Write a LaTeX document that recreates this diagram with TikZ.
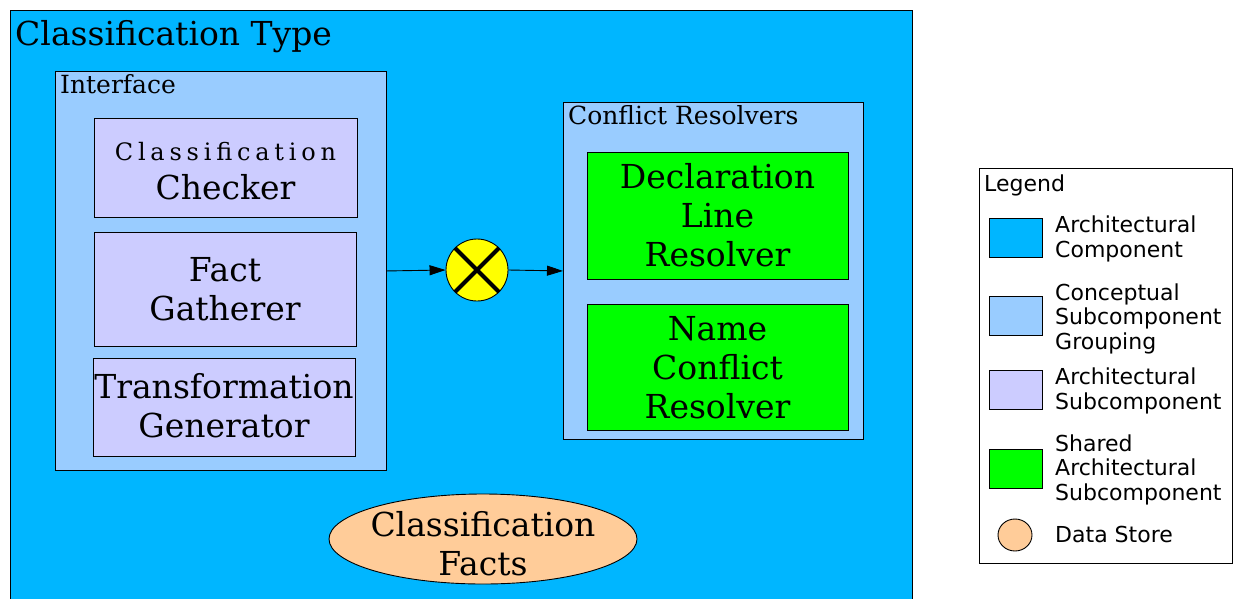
\documentclass[tikz,border=0pt]{standalone}
\usepackage{fontspec}
\setmainfont{DejaVu Serif}
\newfontfamily\legendfont{DejaVu Sans}
\newfontfamily\trackedfont[LetterSpace=20]{DejaVu Serif}
\usetikzlibrary{arrows.meta,shapes.geometric}
\definecolor{compblue}{HTML}{00B6FF}
\definecolor{groupblue}{HTML}{99CCFF}
\definecolor{subviolet}{HTML}{CCCCFF}
\definecolor{sharedgreen}{HTML}{00FF00}
\definecolor{storeorange}{HTML}{FFCC99}
\definecolor{mergeyellow}{HTML}{FFFF00}
% stacked lines whose reference point is the baseline of the first line
\newcommand{\linesc}[1]{\begin{tabular}[t]{@{}c@{}}#1\end{tabular}}
\newcommand{\linesl}[1]{\begin{tabular}[t]{@{}l@{}}#1\end{tabular}}
\tikzset{
  frame/.style={draw=black, line width=0.9pt, rectangle, inner sep=0pt, anchor=north west},
  bigtext/.style={font=\fontsize{33}{39}\selectfont, anchor=base, inner sep=0pt},
  boxlabel/.style={font=\fontsize{25}{29}\selectfont, anchor=base west, inner sep=0pt},
  legendtext/.style={font=\legendfont\fontsize{22}{24.5}\selectfont, anchor=base west, inner sep=0pt},
  swatch/.style={draw=black, line width=0.9pt, minimum width=53pt, minimum height=39pt, inner sep=0pt, anchor=north west},
  flow/.style={-{Triangle[length=16pt,width=10pt]}, line width=0.9pt},
}
\begin{document}
\begin{tikzpicture}[x=1pt,y=-1pt]
\useasboundingbox (0,0) rectangle (1235,598);
\fill[white] (0,0) rectangle (1235,598);

% the component
\node[frame, fill=compblue, minimum width=902pt, minimum height=600pt] (comp) at (10,10) {};
\node[anchor=base west, inner sep=0pt, font=\fontsize{33}{39}\selectfont] (comptitle) at (15,45) {Classification Type};

% interface group
\node[frame, fill=groupblue, minimum width=331pt, minimum height=399pt] (iface) at (55,71) {};
\node[boxlabel] (ifacelabel) at (60,93) {Interface};
\node[frame, fill=subviolet, minimum width=263pt, minimum height=99pt] (checker) at (94,118) {};
\node[anchor=base, inner sep=0pt, font=\trackedfont\fontsize{24}{28}\selectfont] (checkerA) at (225.5,160) {Classification};
\node[bigtext] (checkerB) at (225.5,199) {Checker};
\node[frame, fill=subviolet, minimum width=262pt, minimum height=114pt] (gatherer) at (94,232) {};
\node[bigtext] (gathererText) at (225,281) {\linesc{Fact\\Gatherer}};
\node[frame, fill=subviolet, minimum width=262pt, minimum height=98pt] (generator) at (93,358) {};
\node[bigtext] (generatorText) at (224,398) {\linesc{Transformation\\Generator}};

% conflict resolvers group
\node[frame, fill=groupblue, minimum width=300pt, minimum height=337pt] (conflict) at (563,102) {};
\node[boxlabel] (conflictlabel) at (568,124) {Conflict Resolvers};
\node[frame, fill=sharedgreen, minimum width=261pt, minimum height=127pt] (declres) at (587,152) {};
\node[bigtext] (declresText) at (717.5,188) {\linesc{Declaration\\Line\\Resolver}};
\node[frame, fill=sharedgreen, minimum width=261pt, minimum height=126pt] (nameres) at (587,304) {};
\node[bigtext] (nameresText) at (717.5,340) {\linesc{Name\\Conflict\\Resolver}};

% merge point
\node[circle, draw=black, line width=0.9pt, fill=mergeyellow, minimum size=62pt, inner sep=0pt] (merge) at (477,270) {};
\draw[line width=4pt] (merge.45) -- (merge.225);
\draw[line width=4pt] (merge.135) -- (merge.-45);
\draw[flow] (iface.east) -- (merge.west);
\draw[flow] (merge.east) -- (conflict.west);

% data store
\node[ellipse, draw=black, line width=0.9pt, fill=storeorange, minimum width=308pt, minimum height=90pt, inner sep=0pt] (facts) at (483,539) {};
\node[bigtext] (factsText) at (483,536) {\linesc{Classification\\Facts}};

% legend
\node[frame, fill=white, minimum width=253pt, minimum height=395pt] (legend) at (979,168) {};
\node[legendtext] (legendtitle) at (984,191) {Legend};
\node[swatch, fill=compblue] (swA) at (989,218) {};
\node[legendtext] (txA) at (1055,232.5) {\linesl{Architectural\\Component}};
\node[swatch, fill=groupblue] (swB) at (989,296) {};
\node[legendtext] (txB) at (1055,300) {\linesl{Conceptual\\Subcomponent\\Grouping}};
\node[swatch, fill=subviolet] (swC) at (989,370) {};
\node[legendtext] (txC) at (1055,384.5) {\linesl{Architectural\\Subcomponent}};
\node[swatch, fill=sharedgreen] (swD) at (989,449) {};
\node[legendtext] (txD) at (1055,451) {\linesl{Shared\\Architectural\\Subcomponent}};
\node[ellipse, draw=black, line width=0.9pt, fill=storeorange, minimum width=34pt, minimum height=32pt, inner sep=0pt] (swE) at (1015,535) {};
\node[legendtext] (txE) at (1055,542) {Data Store};
\end{tikzpicture}
\end{document}
